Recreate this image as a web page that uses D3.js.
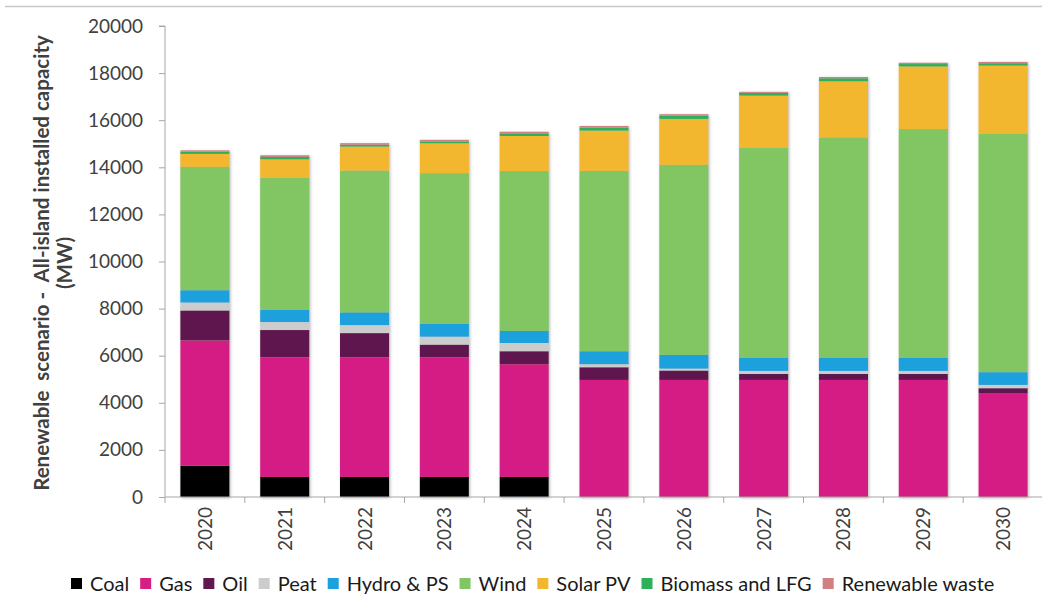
<!DOCTYPE html>
<html>
<head>
<meta charset="utf-8">
<script src="https://cdn.jsdelivr.net/npm/d3@7"></script>
<style>
  body { margin: 0; background: #fff; }
  svg { display: block; font-family: Lato, "Open Sans", sans-serif; }
</style>
</head>
<body>
<div id="chart"></div>
<script>
const years = ["2020", "2021", "2022", "2023", "2024", "2025", "2026", "2027", "2028", "2029", "2030"];
const seriesNames = ["Coal", "Gas", "Oil", "Peat", "Hydro & PS", "Wind", "Solar PV", "Biomass and LFG", "Renewable waste"];
const seriesColors = ["#000000", "#d41f84", "#5f1850", "#cccccc", "#1ba1dc", "#82c564", "#f2b72d", "#2eb05a", "#d08080"];

// MW per year
const coal    = [1320, 850, 850, 850, 850, 0, 0, 0, 0, 0, 0];
const gas     = [5330, 5080, 5080, 5080, 4790, 4970, 4970, 4970, 4970, 4970, 4390];
const oil     = [1270, 1160, 1030, 540, 550, 540, 400, 255, 255, 255, 230];
const peat    = [340, 340, 340, 340, 350, 130, 85, 130, 130, 130, 140];
const hydro   = [520, 520, 540, 540, 510, 550, 580, 550, 550, 550, 540];
const wind    = [5240, 5600, 6020, 6400, 6790, 7660, 8070, 8930, 9360, 9720, 10130];
const solar   = [550, 790, 1020, 1270, 1490, 1710, 1950, 2210, 2390, 2660, 2890];
const biomass = [90, 100, 75, 75, 110, 125, 140, 115, 125, 100, 100];
const waste   = [60, 70, 70, 70, 70, 70, 60, 45, 55, 55, 55];

const yTicks = [0, 2000, 4000, 6000, 8000, 10000, 12000, 14000, 16000, 18000, 20000];

const allSeries = [coal, gas, oil, peat, hydro, wind, solar, biomass, waste];
const rows = years.map((yr, i) => {
  const r = { year: yr };
  seriesNames.forEach((s, k) => r[s] = allSeries[k][i]);
  return r;
});

const W = 1042, H = 599;
const plotLeft = 165, plotRight = 1043, plotTop = 26, plotBottom = 497;

const svg = d3.select("#chart").append("svg").attr("width", W).attr("height", H);

const defs = svg.append("defs");
const f = defs.append("filter").attr("id", "shadow")
  .attr("x", "-20%").attr("y", "-5%").attr("width", "140%").attr("height", "110%");
f.append("feDropShadow").attr("dx", 1).attr("dy", 1).attr("stdDeviation", 1.6)
  .attr("flood-color", "#777").attr("flood-opacity", 0.55);

// top border line
svg.append("line").attr("x1", 5).attr("x2", W).attr("y1", 6.5).attr("y2", 6.5)
  .attr("stroke", "#c8c8c8").attr("stroke-width", 1.5);

const x = d3.scaleBand().domain(years).range([plotLeft, plotRight]).paddingInner(0.385).paddingOuter(0.1925);
const y = d3.scaleLinear().domain([0, 20000]).range([plotBottom, plotTop]);

const stacked = d3.stack().keys(seriesNames)(rows);

// bars, one group per year so the shadow wraps the whole column
const barGroups = svg.append("g").selectAll("g")
  .data(years)
  .join("g")
  .attr("filter", "url(#shadow)");

barGroups.each(function (yr, i) {
  d3.select(this).selectAll("rect")
    .data(stacked.map((layer, k) => ({ key: layer.key, k, d: layer[i] })).filter(o => o.d[1] > o.d[0]))
    .join("rect")
    .attr("x", x(yr))
    .attr("width", x.bandwidth())
    .attr("y", o => y(o.d[1]))
    .attr("height", o => y(o.d[0]) - y(o.d[1]))
    .attr("fill", o => seriesColors[o.k]);
});

// y axis
const yAxis = svg.append("g")
  .attr("transform", `translate(${plotLeft},0)`)
  .call(d3.axisLeft(y).tickValues(yTicks).tickSize(6).tickPadding(16).tickFormat(d3.format("d")));
yAxis.select(".domain").attr("stroke", "#a6a6a6").attr("d", `M-6,${plotTop}H0V${plotBottom}`);
yAxis.selectAll(".tick line").attr("stroke", "#a6a6a6");
yAxis.selectAll(".tick text").attr("font-size", 19).attr("fill", "#404040")
  .attr("font-family", "Lato, sans-serif");

// x axis
const xAxis = svg.append("g").attr("transform", `translate(0,${plotBottom})`);
xAxis.append("line").attr("x1", plotLeft).attr("x2", plotRight).attr("stroke", "#a6a6a6");
const step = x.step();
xAxis.selectAll(".tk")
  .data(d3.range(years.length + 1))
  .join("line")
  .attr("x1", i => plotLeft + i * step).attr("x2", i => plotLeft + i * step)
  .attr("y1", 0).attr("y2", 6)
  .attr("stroke", "#a6a6a6");
xAxis.selectAll(".lbl")
  .data(years)
  .join("text")
  .attr("transform", d => `translate(${x(d) + x.bandwidth() / 2 + 7},${10}) rotate(-90)`)
  .attr("text-anchor", "end")
  .attr("font-size", 19)
  .attr("fill", "#404040")
  .text(d => d);

// y axis title
const title = svg.append("text")
  .attr("transform", `translate(49,263) rotate(-90)`)
  .attr("text-anchor", "middle")
  .attr("font-size", 20.5)
  .attr("font-weight", "bold")
  .attr("fill", "#404040");
title.append("tspan").attr("x", 0).attr("dy", 0).attr("xml:space", "preserve")
  .text("Renewable  scenario -  All-island installed capacity");
title.append("tspan").attr("x", 0).attr("dy", 23).text("(MW)");

// legend
const legend = svg.append("g").attr("transform", "translate(0,584)");
let lx = 71;
seriesNames.forEach((name, k) => {
  const g = legend.append("g").attr("transform", `translate(${lx},0)`);
  g.append("rect").attr("x", 0).attr("y", -6).attr("width", 11).attr("height", 11)
    .attr("fill", seriesColors[k]);
  const t = g.append("text").attr("x", 19).attr("y", 0).attr("dy", "0.35em")
    .attr("font-size", 20).attr("fill", "#1a1a1a").text(name);
  lx += 19 + t.node().getComputedTextLength() + 11;
});
</script>
</body>
</html>
